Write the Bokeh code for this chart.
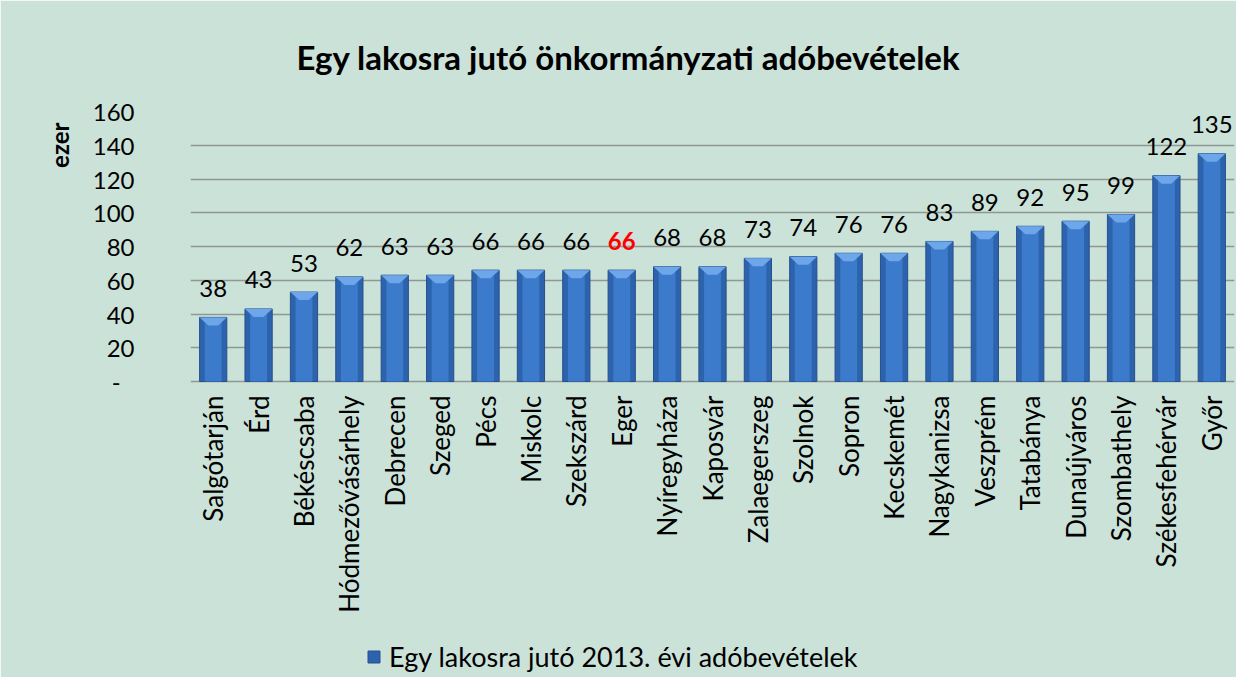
import math
from bokeh.plotting import figure
from bokeh.models import Range1d, FixedTicker, Legend, LegendItem, ColumnDataSource, Title
from bokeh.core.properties import value
from bokeh.embed import file_html
from bokeh.resources import INLINE

cities = ["Salgótarján", "Érd", "Békéscsaba", "Hódmezővásárhely", "Debrecen", "Szeged",
          "Pécs", "Miskolc", "Szekszárd", "Eger", "Nyíregyháza", "Kaposvár", "Zalaegerszeg",
          "Szolnok", "Sopron", "Kecskemét", "Nagykanizsa", "Veszprém", "Tatabánya",
          "Dunaújváros", "Szombathely", "Székesfehérvár", "Győr"]
values = [38, 43, 53, 62, 63, 63, 66, 66, 66, 66, 68, 68, 73, 74, 76, 76, 83, 89, 92, 95, 99, 122, 135]
y_ticks = [0, 20, 40, 60, 80, 100, 120, 140, 160]
highlight = "Eger"
title_text = "Egy lakosra jutó önkormányzati adóbevételek"
legend_text = "Egy lakosra jutó 2013. évi adóbevételek"
y_label = "ezer"

FONT = "Lato"
BG = "#cbe2d9"

W, H = 1236, 677
TOP, LEFT, RIGHT = 111, 190, 2
ZERO_PX = 381          # pixel row of the value 0
Y_MAX = 160
px_per_unit = (ZERO_PX - TOP) / Y_MAX
y_min = -(H - ZERO_PX) / px_per_unit

idx = list(range(len(cities)))
bar_w = 0.6
bevel_depth = 8 / px_per_unit

src = ColumnDataSource(dict(
    x=idx, top=values, zero=[0] * len(cities), name=cities,
    label=[str(v) for v in values],
    color=["#ff0000" if c == highlight else "#000000" for c in cities],
    style=["bold" if c == highlight else "normal" for c in cities],
))

p = figure(width=W, height=H, output_backend="svg", toolbar_location=None,
           x_range=Range1d(-0.5, len(cities) - 0.5), y_range=Range1d(y_min, Y_MAX),
           min_border_left=LEFT, min_border_right=RIGHT, min_border_top=TOP, min_border_bottom=0)
p.background_fill_color = BG
p.border_fill_color = BG
p.outline_line_color = BG
p.outline_line_width = 2

# title above the frame, shifted to the chart's centre
p.title = Title(text=title_text, align="left", offset=106, standoff=68,
                vertical_align="middle",
                text_font=FONT, text_font_size="33px", text_font_style="bold",
                text_color="#000000")

# y label as a left-side title near the top
p.add_layout(Title(text=y_label, align="right", offset=11, standoff=32,
                   text_font=FONT, text_font_size="24px", text_font_style="bold",
                   text_color="#000000"), "left")

# value axis
p.yaxis.ticker = FixedTicker(ticks=y_ticks)
p.yaxis.major_label_overrides = {0: "-\u2007"}
p.yaxis.axis_line_color = None
p.yaxis.major_tick_line_color = None
p.yaxis.minor_tick_line_color = None
p.yaxis.major_tick_out = 0
p.yaxis.major_label_standoff = 56
p.yaxis.major_label_text_font = FONT
p.yaxis.major_label_text_font_size = "24px"
p.yaxis.major_label_text_color = "#000000"

p.xaxis.visible = False
p.xgrid.grid_line_color = None
p.ygrid.ticker = FixedTicker(ticks=y_ticks)
p.ygrid.grid_line_color = "#8e9894"
p.ygrid.grid_line_width = 1.5

# bars (layered for a bevelled look)
r_main = p.vbar(x="x", top="top", width=bar_w, bottom=0, source=src,
                fill_color="#2d63ad", line_color="#25508c", line_width=1)
p.vbar(x="x", top="top", width=bar_w * 0.62, bottom=0, source=src,
       fill_color="#3c7acb", line_color=None)
xs, ys = [], []
for i, v in zip(idx, values):
    xs.append([i - bar_w / 2, i + bar_w / 2, i + bar_w * 0.18, i - bar_w * 0.18])
    ys.append([v, v, v - bevel_depth, v - bevel_depth])
p.patches(xs=xs, ys=ys, fill_color="#6ea6ea", line_color=None)

# value labels
p.text(x="x", y="top", text="label", source=src, text_align="center", text_baseline="alphabetic",
       y_offset=-29, text_font=value(FONT), text_font_size="24px", text_color="color",
       text_font_style="style")

# category labels under the bars (vertical, reading upwards)
p.text(x="x", y="zero", text="name", source=src, angle=math.pi / 2, text_align="right",
       text_baseline="middle", y_offset=14, text_font=value(FONT), text_font_size="26px",
       text_color="#000000")

legend = Legend(items=[LegendItem(label=legend_text, renderers=[r_main])],
                location=(176, 4), orientation="horizontal",
                glyph_width=15, glyph_height=15, label_standoff=8, padding=0, margin=0,
                background_fill_alpha=0, border_line_color=None,
                label_text_font=FONT, label_text_font_size="27px", label_text_color="#000000")
p.add_layout(legend, "center")

open("out.html", "w").write(file_html(p, INLINE))
